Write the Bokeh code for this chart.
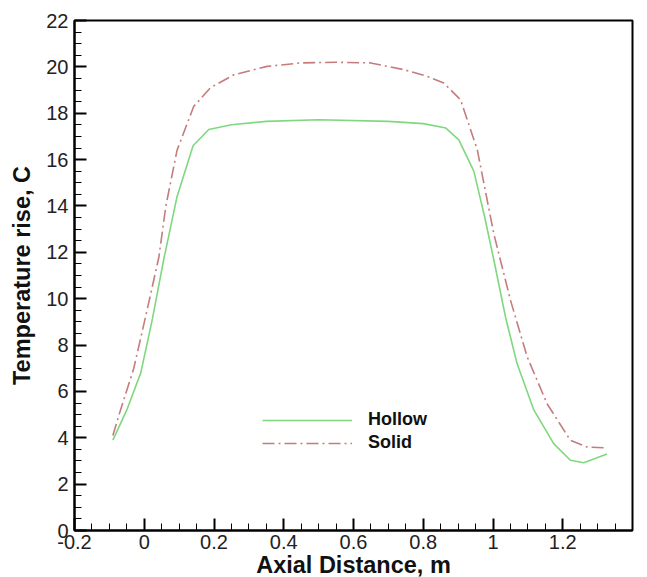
from bokeh.plotting import figure
from bokeh.models import Range1d, SingleIntervalTicker, CustomJSTickFormatter, Legend, LegendItem
from bokeh.embed import file_html
from bokeh.resources import INLINE

# Data
hollow_x = [-0.09, -0.05, -0.01, 0.023, 0.056, 0.094, 0.14, 0.185, 0.25, 0.35, 0.50, 0.70,
            0.80, 0.865, 0.902, 0.945, 0.975, 1.002, 1.036, 1.069, 1.117, 1.174, 1.222,
            1.26, 1.327]
hollow_y = [3.9, 5.2, 6.8, 9.1, 11.7, 14.4, 16.6, 17.3, 17.5, 17.65, 17.72, 17.65,
            17.55, 17.36, 16.85, 15.5, 13.6, 11.7, 9.2, 7.2, 5.2, 3.75, 3.03,
            2.92, 3.3]

solid_x = [-0.09, -0.068, -0.03, 0.008, 0.042, 0.062, 0.094, 0.142, 0.19, 0.257, 0.352,
           0.448, 0.55, 0.649, 0.744, 0.81, 0.859, 0.907, 0.955, 1.002, 1.05, 1.098,
           1.155, 1.222, 1.27, 1.327]
solid_y = [4.1, 5.2, 7.0, 9.5, 11.8, 14.0, 16.4, 18.3, 19.1, 19.66, 20.02,
           20.17, 20.2, 20.17, 19.88, 19.6, 19.3, 18.58, 16.42, 12.82, 9.94, 7.49,
           5.47, 3.89, 3.6, 3.56]

series_names = ["Hollow", "Solid"]
x_title = "Axial Distance, m"
y_title = "Temperature rise, C"

FONT = "Liberation Sans"

p = figure(width=647, height=577, output_backend="svg", toolbar_location=None,
           x_range=Range1d(-0.2, 1.4), y_range=Range1d(0, 22),
           frame_width=558, frame_height=510,
           min_border_left=74, min_border_right=15, min_border_top=20, min_border_bottom=47)
p.background_fill_color = "white"
p.border_fill_color = "white"
p.grid.visible = False
p.outline_line_color = "black"
p.outline_line_width = 2

r1 = p.line(hollow_x, hollow_y, line_color="#7fd87f", line_width=1.6)
r2 = p.line(solid_x, solid_y, line_color="#c47c7c", line_width=1.6, line_dash="12 4 2 4")

for ax in (p.xaxis[0], p.yaxis[0]):
    ax.axis_line_width = 2
    ax.axis_line_color = "black"
    ax.major_tick_in = 12
    ax.major_tick_out = 0
    ax.minor_tick_in = 7
    ax.minor_tick_out = 0
    ax.major_tick_line_width = 2
    ax.minor_tick_line_width = 1
    ax.major_label_text_font = FONT
    ax.major_label_text_font_size = "20px"
    ax.major_label_text_color = "#222222"
    ax.axis_label_text_font = FONT
    ax.axis_label_text_font_size = "23.5px"
    ax.axis_label_text_font_style = "bold"
    ax.axis_label_text_color = "#111111"

p.xaxis[0].ticker = SingleIntervalTicker(interval=0.2, num_minor_ticks=4)
p.yaxis[0].ticker = SingleIntervalTicker(interval=2, num_minor_ticks=4)
p.xaxis[0].formatter = CustomJSTickFormatter(code="return String(Math.round(tick*10)/10);")
p.xaxis[0].axis_label = x_title
p.yaxis[0].axis_label = y_title
p.xaxis[0].major_label_standoff = 4
p.yaxis[0].major_label_standoff = 6
p.xaxis[0].axis_label_standoff = 0
p.yaxis[0].axis_label_standoff = 8

legend = Legend(items=[LegendItem(label=series_names[0], renderers=[r1]),
                       LegendItem(label=series_names[1], renderers=[r2])],
                location=(188, 77), padding=0, margin=0, spacing=2,
                glyph_width=90, glyph_height=20, label_height=20,
                label_standoff=16, border_line_alpha=0, background_fill_alpha=0,
                label_text_font=FONT, label_text_font_size="18px",
                label_text_font_style="bold", label_text_color="#111111")
p.add_layout(legend, "center")

open("out.html", "w").write(file_html(p, INLINE))
